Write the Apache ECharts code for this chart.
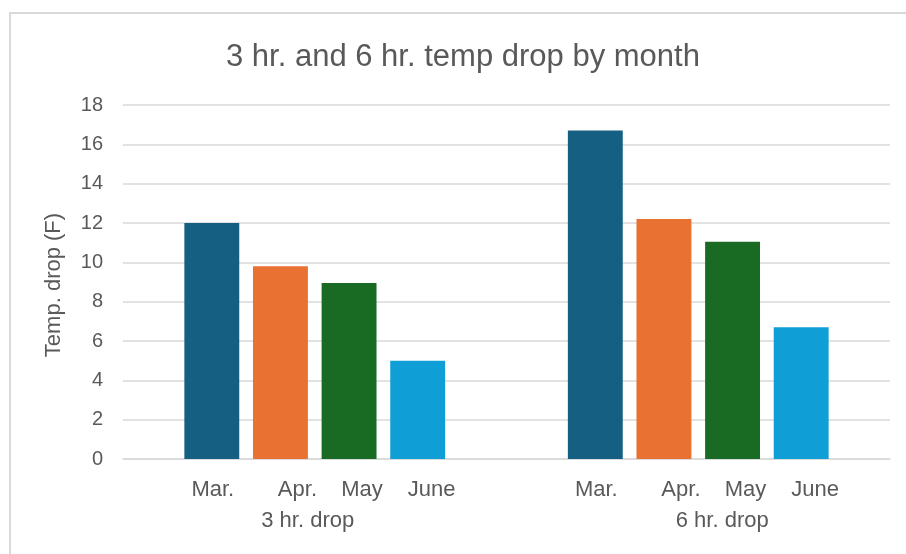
<!DOCTYPE html>
<html>
<head>
<meta charset="utf-8">
<title>3 hr. and 6 hr. temp drop by month</title>
<script src="https://cdn.jsdelivr.net/npm/echarts@6/dist/echarts.min.js"></script>
<style>
  html, body { margin: 0; padding: 0; background: #fff; }
  #chart { width: 906px; height: 554px; }
</style>
</head>
<body>
<div id="chart"></div>
<script>
// data
const groups = ["3 hr. drop", "6 hr. drop"];
const months = ["Mar.", "Apr.", "May", "June"];
const mar = [12.0, 16.7];
const apr = [9.8, 12.2];
const may = [8.95, 11.05];
const june = [5.0, 6.7];
const yTicks = [0, 2, 4, 6, 8, 10, 12, 14, 16, 18];

const colors = ["#156082", "#e97132", "#196b24", "#0f9ed5"];
// month labels in the picture sit a bit right of their bars
const labelShift = [1, 17, 13, 14];
const textColor = "#595959";
const font = "Liberation Sans";

const seriesValues = [mar, apr, may, june];

const chart = echarts.init(document.getElementById("chart"));

const series = months.map((name, i) => ({
  name: name,
  type: "bar",
  data: seriesValues[i],
  barGap: "25%",
  barCategoryGap: "32%",
  itemStyle: { color: colors[i] },
  label: {
    show: true,
    position: "bottom",
    distance: 20,
    offset: [labelShift[i], 0],
    formatter: "{a}",
    color: textColor,
    fontFamily: font,
    fontSize: 22,
  },
}));

const option = {
  animation: false,
  title: {
    text: "3 hr. and 6 hr. temp drop by month",
    left: 221,
    top: 37,
    textStyle: {
      color: textColor,
      fontFamily: font,
      fontSize: 31,
      fontWeight: "normal",
    },
  },
  graphic: [
    {
      type: "rect",
      shape: { x: 10, y: 13, width: 1000, height: 1000 },
      style: { fill: "none", stroke: "#d9d9d9", lineWidth: 2 },
      silent: true,
    },
  ],
  grid: { left: 123, right: 16, top: 105, bottom: 95 },
  xAxis: {
    type: "category",
    data: groups,
    axisLine: { show: true, lineStyle: { color: "#d9d9d9", width: 1.5 } },
    axisTick: { show: false },
    axisLabel: {
      margin: 51,
      formatter: (v, idx) => (idx === 0 ? "{a|" + v + "}" : "{b|" + v + "}"),
      rich: {
        a: { color: textColor, fontFamily: font, fontSize: 22, padding: [0, 14, 0, 0] },
        b: { color: textColor, fontFamily: font, fontSize: 22, padding: [0, 0, 0, 48] },
      },
    },
  },
  yAxis: {
    type: "value",
    min: yTicks[0],
    max: yTicks[yTicks.length - 1],
    interval: yTicks[1] - yTicks[0],
    name: "Temp. drop (F)",
    nameLocation: "middle",
    nameGap: 58,
    nameTextStyle: { color: textColor, fontFamily: font, fontSize: 22, padding: [0, 6, 0, 0] },
    axisLine: { show: false },
    axisTick: { show: false },
    axisLabel: { color: textColor, fontFamily: font, fontSize: 20, margin: 20 },
    splitLine: { lineStyle: { color: "#d9d9d9", width: 1.5 } },
  },
  series: series,
};

chart.setOption(option);
</script>
</body>
</html>
